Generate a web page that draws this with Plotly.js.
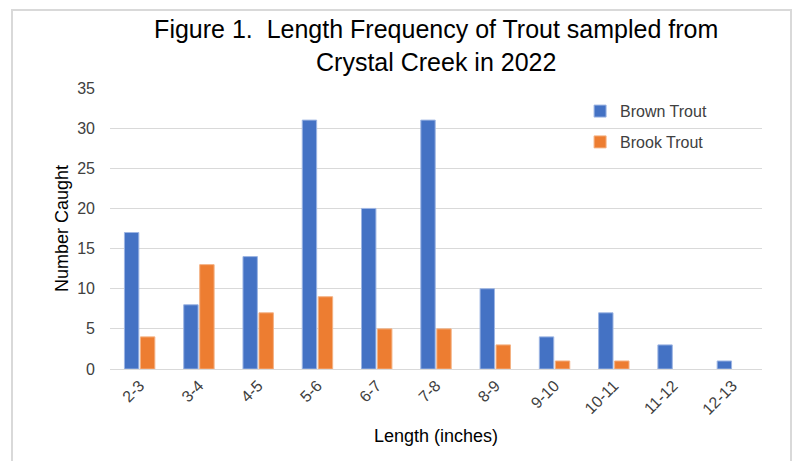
<!DOCTYPE html>
<html><head><meta charset="utf-8">
<script src="https://cdn.plot.ly/plotly-3.0.1.min.js"></script>
<style>
html,body{margin:0;padding:0;background:#fff;}
#wrap{position:relative;width:796px;height:461px;}
#chart{position:absolute;left:0;top:0;width:796px;height:461px;}
#frame{position:absolute;left:11px;top:9px;width:781px;height:470px;border:2px solid #d9d9d9;pointer-events:none;box-sizing:border-box;}
</style></head>
<body><div id="wrap"><div id="chart"></div><div id="frame"></div></div>
<script>
var categories = ["2-3","3-4","4-5","5-6","6-7","7-8","8-9","9-10","10-11","11-12","12-13"];
var brownTrout = [17, 8, 14, 31, 20, 31, 10, 4, 7, 3, 1];
var brookTrout = [4, 13, 7, 9, 5, 5, 3, 1, 1, 0, 0];
var yTicks = [0, 5, 10, 15, 20, 25, 30, 35];

var font = "Arial, 'Liberation Sans', sans-serif";
function edgeWidths(vals){ return vals.map(function(v){ return v > 0 ? 1 : 0; }); }
var traces = [
  {type:'bar', name:'Brown Trout', x:categories, y:brownTrout, legendgroup:'a',
   marker:{color:'#4472C4', line:{color:'#9DB5E3', width:edgeWidths(brownTrout)}}},
  {type:'bar', name:'Brook Trout', x:categories, y:brookTrout, legendgroup:'b',
   marker:{color:'#ED7D31', line:{color:'#F4B183', width:edgeWidths(brookTrout)}}}
];
var layout = {
  width:796, height:461,
  paper_bgcolor:'#fff', plot_bgcolor:'#fff',
  margin:{l:110, r:34, t:88, b:92},
  font:{family:font, size:16, color:'#404040'},
  title:{text:'Figure 1.  Length Frequency of Trout sampled from<br>Crystal Creek in 2022',
         font:{family:font, size:25, color:'#000'}, x:0.548, xanchor:'center', y:0.917, yanchor:'middle'},
  barmode:'group', bargap:0.46, bargroupgap:0.1,
  xaxis:{type:'category', tickangle:-45, showgrid:false, showline:true, linecolor:'#d9d9d9', linewidth:1,
         ticks:'', tickfont:{family:font, size:16, color:'#404040'},
         title:{text:'Length (inches)', font:{family:font, size:18, color:'#000'}, standoff:12}},
  yaxis:{range:[0,35], tickvals:yTicks, showgrid:true, gridcolor:'#d9d9d9', gridwidth:1,
         zeroline:false, showline:false, ticks:'', ticklabelstandoff:14,
         tickfont:{family:font, size:16, color:'#404040'},
         title:{text:'Number Caught', font:{family:font, size:18, color:'#000'}, standoff:3}},
  legend:{x:0.721, y:0.978, xanchor:'left', yanchor:'top', bgcolor:'rgba(0,0,0,0)',
          traceorder:'grouped', tracegroupgap:7,
          font:{family:font, size:16, color:'#404040'}, itemwidth:30},
  showlegend:true
};
Plotly.newPlot('chart', traces, layout, {displayModeBar:false, staticPlot:true});
</script></body></html>
